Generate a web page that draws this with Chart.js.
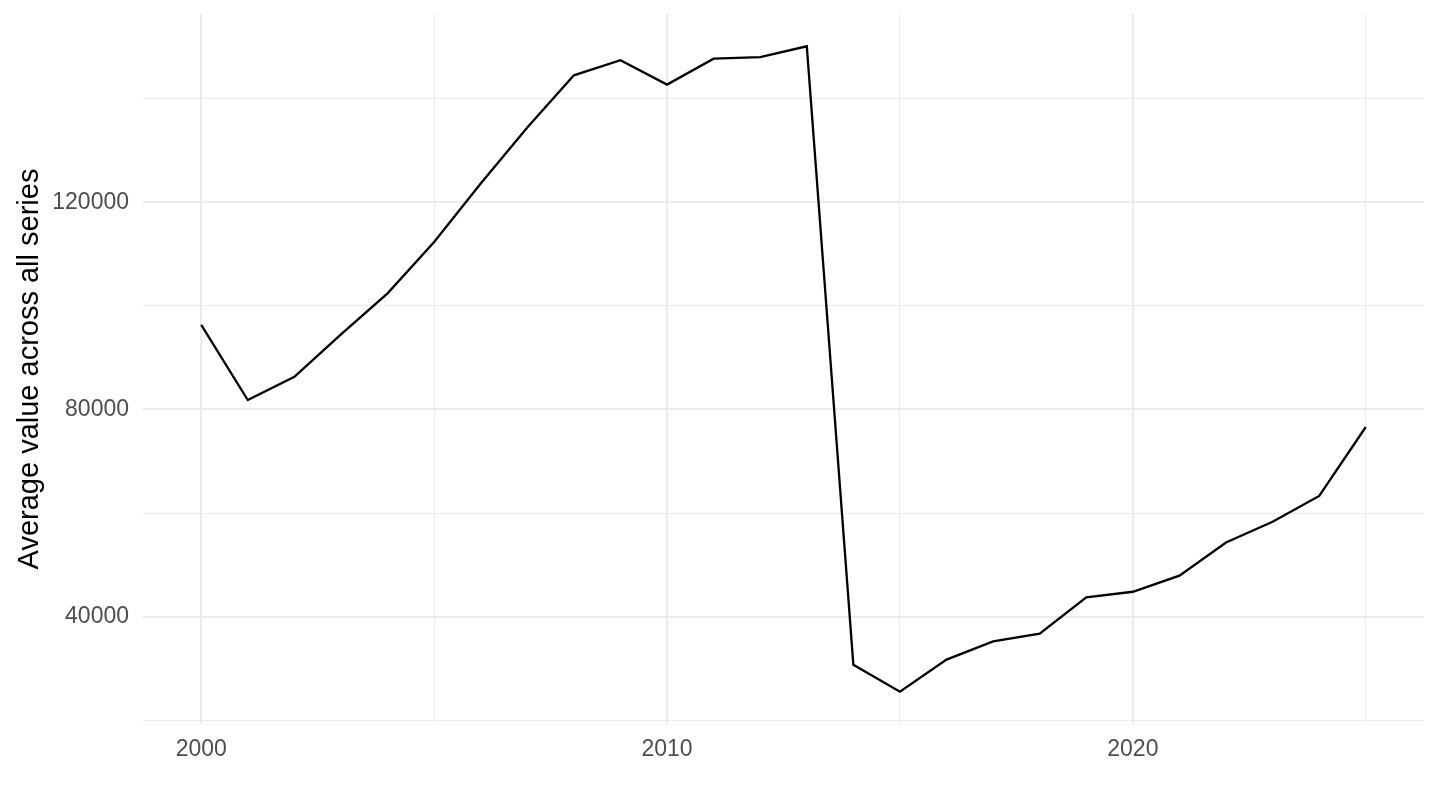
<!DOCTYPE html>
<html>
<head>
<meta charset="utf-8">
<script src="https://cdn.jsdelivr.net/npm/chart.js@4.4.1/dist/chart.umd.min.js"></script>
<style>
  html, body { margin: 0; padding: 0; background: #fff; }
  #wrap { width: 1440px; height: 810px; }
</style>
</head>
<body>
<div id="wrap"><canvas id="chart" width="1440" height="810"></canvas></div>
<script>
// data
const years = [2000, 2001, 2002, 2003, 2004, 2005, 2006, 2007, 2008, 2009,
               2010, 2011, 2012, 2013, 2014, 2015, 2016, 2017, 2018, 2019,
               2020, 2021, 2022, 2023, 2024, 2025];
const avgValues = [96300, 81800, 86300, 94500, 102400, 112300, 123600, 134400, 144500, 147400,
                   142700, 147700, 148000, 150100, 30700, 25500, 31700, 35200, 36700, 43700,
                   44800, 47900, 54300, 58300, 63300, 76600];
const xTicks = [2000, 2005, 2010, 2015, 2020, 2025];
const xLabels = [2000, 2010, 2020];
const yTicks = [20000, 40000, 60000, 80000, 100000, 120000, 140000];
const yLabels = [40000, 80000, 120000];

const points = years.map((y, i) => ({ x: y, y: avgValues[i] }));

// ggplot-style 5% expansion
const xMin = Math.min(...years), xMax = Math.max(...years);
const xPad = (xMax - xMin) * 0.05;
const yLo = Math.min(...avgValues), yHi = Math.max(...avgValues);
const yPad = (yHi - yLo) * 0.05;

const font = "'Liberation Sans', Arial, Helvetica, sans-serif";

const canvas = document.getElementById('chart');
const ctx = canvas.getContext('2d');
new Chart(ctx, {
    type: 'line',
    data: {
        datasets: [{
            data: points,
            borderColor: '#000000',
            borderWidth: 2.3,
            pointRadius: 0,
            tension: 0,
            fill: false
        }]
    },
    options: {
        responsive: false,
        animation: false,
        layout: { padding: { left: 0, top: 14, right: 16, bottom: 0 } },
        plugins: { legend: { display: false }, tooltip: { enabled: false } },
        scales: {
            x: {
                type: 'linear',
                min: xMin - xPad,
                max: xMax + xPad,
                afterBuildTicks: (s) => { s.ticks = xTicks.map(v => ({ value: v })); },
                afterFit: (s) => { s.height = 86; s.paddingLeft = 0; s.paddingRight = 0; },
                border: { display: false },
                grid: {
                    drawTicks: false,
                    color: '#ebebeb',
                    lineWidth: (c) => xLabels.includes(c.tick && c.tick.value) ? 2 : 1
                },
                ticks: {
                    padding: 12,
                    maxRotation: 0,
                    autoSkip: false,
                    color: '#4d4d4d',
                    font: { family: font, size: 23 },
                    callback: (v) => xLabels.includes(v) ? String(v) : ''
                }
            },
            y: {
                min: yLo - yPad,
                max: yHi + yPad,
                afterBuildTicks: (s) => { s.ticks = yTicks.map(v => ({ value: v })); },
                afterFit: (s) => { s.width = 143; s.paddingTop = 0; s.paddingBottom = 0; },
                border: { display: false },
                grid: {
                    drawTicks: false,
                    color: '#ebebeb',
                    lineWidth: (c) => yLabels.includes(c.tick && c.tick.value) ? 2 : 1
                },
                ticks: {
                    padding: 14,
                    autoSkip: false,
                    color: '#4d4d4d',
                    font: { family: font, size: 23 },
                    callback: (v) => yLabels.includes(v) ? String(v) : ''
                },
                title: {
                    display: true,
                    text: 'Average value across all series',
                    color: '#000000',
                    font: { family: font, size: 29 },
                    padding: { top: 13, bottom: 0 }
                }
            }
        }
    }
});
</script>
</body>
</html>
